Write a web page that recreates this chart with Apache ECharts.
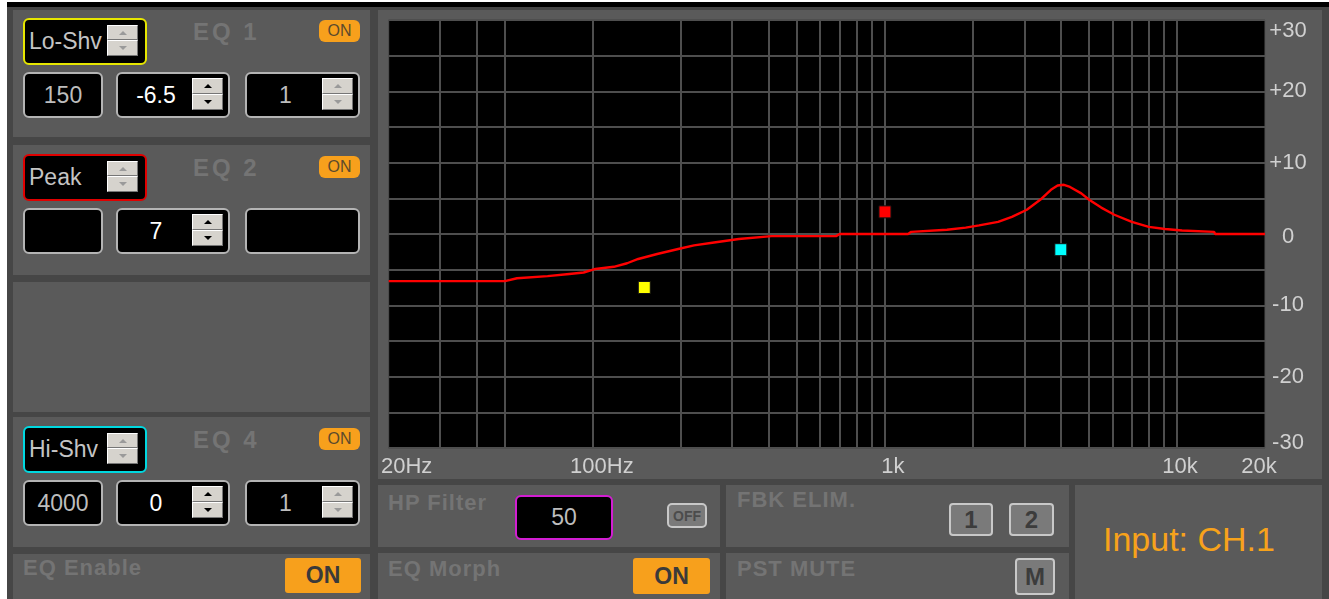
<!DOCTYPE html>
<html>
<head>
<meta charset="utf-8">
<script src="https://cdn.jsdelivr.net/npm/echarts@6/dist/echarts.min.js"></script>
<style>
html, body { margin: 0; padding: 0; width: 1329px; height: 599px; overflow: hidden; background: #fff;
  font-family: "Liberation Sans", Arial, sans-serif; }
#frame { position: absolute; left: 7px; top: 2px; width: 1322px; height: 597px; background: #464646;
  border-top: 5px solid #000; box-sizing: border-box; }
.panel { position: absolute; background: #5a5a5a; }
.box { position: absolute; box-sizing: border-box; background: #000; border: 2px solid #b4b4b4;
  border-radius: 6px; color: #bdbdbd; font-size: 23px; }
.txt { position: absolute; top: 0; bottom: 0; display: flex; align-items: center; justify-content: center; }
.lbl { position: absolute; font-weight: bold; color: #747474; font-size: 22px; line-height: 1;
  letter-spacing: 1px; white-space: nowrap; }
.spin { position: absolute; width: 31px; }
.spin div { position: relative; box-sizing: border-box; width: 31px; background: #d6d3cd;
  border: 1px solid; border-color: #fff #767676 #767676 #fff; }
.spin div::after { content: ""; position: absolute; left: 11px; top: 5px; width: 0; height: 0;
  border-left: 4px solid transparent; border-right: 4px solid transparent; }
.spin .up::after { border-bottom: 4px solid var(--ac); }
.spin .dn::after { border-top: 4px solid var(--ac); }
.badge { position: absolute; box-sizing: border-box; background: #f7a01c; border-radius: 6px;
  color: #5c4a2c; font-size: 16px; display: flex; align-items: center; justify-content: center; }
.btn { position: absolute; box-sizing: border-box; background: #f7a01c; border-radius: 3px;
  color: #3a3a3a; font-size: 23px; font-weight: bold; display: flex; align-items: center; justify-content: center; }
.gbtn { position: absolute; box-sizing: border-box; background: #7a7a7a; border: 2px solid #c8c8c8;
  border-radius: 4px; color: #3c3c3c; font-size: 24px; font-weight: bold;
  display: flex; align-items: center; justify-content: center; }
#graph { position: absolute; left: 378px; top: 10px; width: 944px; height: 469px; z-index: 5; }
</style>
</head>
<body>
<div id="frame"></div>
<div id="graph"></div>
<script>
// EQ curve (Hz, dB)
const freqs = [20, 50, 55, 70, 83, 93, 102, 118, 131, 143, 166, 196, 222, 260, 316, 409, 680, 700, 1200, 1230,
  1630, 1890, 2100, 2440, 2720, 3060, 3400, 3700, 3900, 4100, 4300, 4700, 5000, 5500, 6100, 7000, 8000, 9100, 10400, 13400,
  13500, 20000];
const gains = [-6.6, -6.6, -6.2, -5.9, -5.6, -5.4, -4.9, -4.6, -4.1, -3.5, -2.8, -2.1, -1.6, -1.2, -0.7, -0.3, -0.3, 0, 0, 0.3,
  0.6, 0.9, 1.2, 1.7, 2.4, 3.4, 4.8, 6.2, 6.8, 6.9, 6.6, 5.7, 4.8, 3.7, 2.7, 1.7, 1.0, 0.7, 0.5, 0.3,
  0, 0];

// band handles
const markerFreqs = [150, 1000, 4000];
const markerGains = [-7.5, 3.1, -2.2];
const markerColors = ["#ffff00", "#ff0000", "#00ffff"];

// grid + ticks
const gridFreqs = [30, 40, 50, 100, 200, 300, 400, 500, 600, 700, 800, 900, 1000,
  2000, 3000, 4000, 5000, 6000, 7000, 8000, 9000, 10000];
const freqTicks = [20, 100, 1000, 10000, 20000];
const freqTickLabels = ["20Hz", "100Hz", "1k", "10k", "20k"];

// band panel values
const bandNames = ["EQ 1", "EQ 2", "EQ 4"];
const bandTypes = ["Lo-Shv", "Peak", "Hi-Shv"];
const bandColors = ["#e6e600", "#e00000", "#00d8e0"];
const bandFreq = ["150", "", "4000"];
const bandGain = ["-6.5", "7", "0"];
const bandQ = ["1", "", "1"];
const bandTop = [18, 154, 426];

function add(cls, x, y, w, h, text, extra) {
  const d = document.createElement("div");
  d.className = cls;
  d.style.left = x + "px";
  d.style.top = y + "px";
  if (w != null) d.style.width = w + "px";
  if (h != null) d.style.height = h + "px";
  if (extra) Object.assign(d.style, extra);
  if (text != null) d.textContent = text;
  document.body.appendChild(d);
  return d;
}

function spinner(x, y, h, arrow) {
  const s = add("spin", x, y, null, h);
  s.style.setProperty("--ac", arrow);
  const half = Math.floor(h / 2);
  const up = document.createElement("div");
  up.className = "up";
  up.style.height = half + "px";
  const dn = document.createElement("div");
  dn.className = "dn";
  dn.style.height = (h - half) + "px";
  s.appendChild(up);
  s.appendChild(dn);
}

function valueBox(x, y, w, h, text, color, textW, border) {
  const b = add("box", x, y, w, h, null, border ? { borderColor: border } : null);
  const t = document.createElement("div");
  t.className = "txt";
  t.style.left = "0px";
  t.style.width = (textW || w - 4) + "px";
  t.style.color = color;
  t.textContent = text;
  b.appendChild(t);
  return b;
}

// panels
add("panel", 13, 10, 357, 127);
add("panel", 13, 145, 357, 130);
add("panel", 13, 282, 357, 130);
add("panel", 13, 417, 357, 130);
add("panel", 13, 554, 357, 45);
add("panel", 378, 10, 944, 469);
add("panel", 378, 485, 342, 62);
add("panel", 378, 553, 342, 46);
add("panel", 726, 485, 343, 62);
add("panel", 726, 553, 343, 46);
add("panel", 1075, 485, 247, 114);

// EQ bands
bandNames.forEach(function (name, i) {
  const top = bandTop[i];
  const tb = add("box", 23, top, 124, 47, null, { borderColor: bandColors[i] });
  const tt = document.createElement("div");
  tt.className = "txt";
  tt.style.left = "4px";
  tt.style.justifyContent = "flex-start";
  tt.style.color = "#c4c4c4";
  tt.textContent = bandTypes[i];
  tb.appendChild(tt);
  spinner(107, top + 7, 31, "#9a9a9a");
  add("lbl", 193, top + 2, null, null, name, { fontSize: "24px", letterSpacing: "3px" });
  add("badge", 319, top + 2, 41, 22, "ON");

  const row = top + 54;
  valueBox(23, row, 80, 46, bandFreq[i], "#bdbdbd");
  valueBox(116, row, 114, 46, bandGain[i], "#ffffff", 76);
  spinner(192, row + 6, 32, "#000");
  valueBox(245, row, 115, 46, bandQ[i], "#bdbdbd", 77);
  if (bandQ[i] !== "") spinner(322, row + 6, 32, "#9a9a9a");
});

// bottom controls
add("lbl", 23, 557, null, null, "EQ Enable");
add("btn", 285, 558, 76, 35, "ON");
add("lbl", 388, 492, null, null, "HP Filter");
valueBox(515, 495, 98, 45, "50", "#bdbdbd", 94, "#d21ed2");
add("gbtn", 667, 503, 40, 25, "OFF", { fontSize: "14px", borderRadius: "5px", color: "#4c4c4c" });
add("lbl", 388, 558, null, null, "EQ Morph");
add("btn", 633, 558, 77, 36, "ON");
add("lbl", 737, 489, null, null, "FBK ELIM.");
add("gbtn", 949, 503, 44, 33, "1");
add("gbtn", 1009, 503, 45, 33, "2");
add("lbl", 737, 558, null, null, "PST MUTE");
add("gbtn", 1015, 558, 40, 37, "M");
add("lbl", 1103, 522, null, null, "Input: CH.1",
  { fontSize: "34px", fontWeight: "normal", color: "#f7a21b", letterSpacing: "0px" });

// response graph
const labelColor = "#d0d0d0";
const gridColor = "#4e4e4e";
const curve = freqs.map(function (f, i) { return [f, gains[i]]; });
const markers = markerFreqs.map(function (f, i) {
  return { value: [f, markerGains[i]], itemStyle: { color: markerColors[i], opacity: 1, borderColor: "#111", borderWidth: 1 } };
});
// small nudges so the frequency labels sit like the original
const freqRichKeys = ["a", "b", "c", "d", "e"];
function labelStyle(pad) {
  return { color: labelColor, fontSize: 22, padding: pad };
}

let myChart = echarts.init(document.getElementById("graph"));
myChart.setOption({
  animation: false,
  grid: {
    left: 10, top: 10, right: 57, bottom: 31,
    show: true, backgroundColor: "#000", borderColor: "#505050", borderWidth: 1
  },
  xAxis: {
    type: "log",
    logBase: 10,
    min: 20,
    max: 20000,
    axisLine: { show: false },
    axisTick: { show: false },
    splitLine: { show: false },
    minorSplitLine: { show: false },
    axisLabel: {
      customValues: freqTicks,
      color: labelColor,
      fontSize: 22,
      margin: 8,
      formatter: function (v) {
        for (let k = 0; k < freqTicks.length; k++) {
          if (Math.abs(Math.log10(v / freqTicks[k])) < 0.01) {
            return "{" + freqRichKeys[k] + "|" + freqTickLabels[k] + "}";
          }
        }
        return "";
      },
      rich: {
        a: labelStyle([0, 0, 0, 36]),
        b: labelStyle([0, 0, 0, 18]),
        c: labelStyle([0, 0, 0, 16]),
        d: labelStyle([0, 0, 0, 6]),
        e: labelStyle([0, 12, 0, 0])
      }
    }
  },
  yAxis: {
    type: "value",
    position: "right",
    min: -30,
    max: 30,
    interval: 5,
    axisLine: { show: false },
    axisTick: { show: false },
    splitLine: { lineStyle: { color: gridColor, width: 2 } },
    axisLabel: {
      margin: 23,
      align: "center",
      color: labelColor,
      fontSize: 22,
      formatter: function (v) {
        if (v % 10 !== 0) return "";
        if (v === 30) return "{t|+30}";
        if (v === -30) return "{b|-30}";
        if (v === 0) return "{z|0}";
        return v > 0 ? "+" + v : String(v);
      },
      rich: {
        t: labelStyle([22, 0, 0, 0]),
        z: labelStyle([6, 0, 0, 0]),
        b: labelStyle([0, 0, 10, 0])
      }
    }
  },
  series: [
    {
      type: "line",
      data: [],
      silent: true,
      z: 1,
      markLine: {
        z: 1,
        symbol: "none",
        silent: true,
        animation: false,
        label: { show: false },
        lineStyle: { color: gridColor, width: 2, type: "solid" },
        data: gridFreqs.map(function (f) { return { xAxis: f }; })
      }
    },
    {
      type: "line",
      data: curve,
      showSymbol: false,
      z: 3,
      lineStyle: { color: "#ff0000", width: 2.4 }
    },
    {
      type: "scatter",
      data: markers,
      symbol: "rect",
      symbolSize: 12,
      z: 6
    }
  ]
});
</script>
</body>
</html>
